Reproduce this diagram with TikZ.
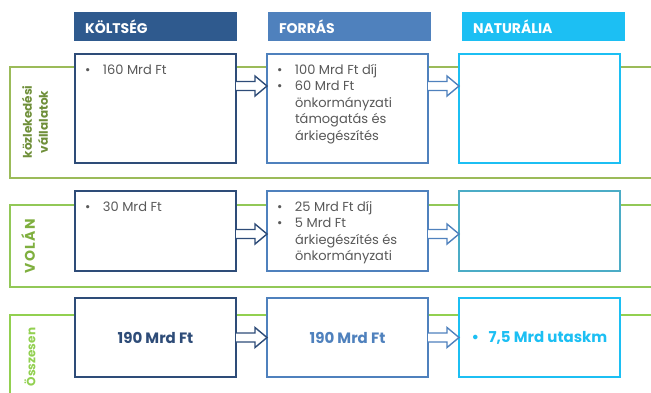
\documentclass[tikz,border=0pt]{standalone}
\usepackage{fontspec}
\setmainfont{Poppins}
\usepackage{tikz}
\usetikzlibrary{arrows}
\usetikzlibrary{positioning,calc}

\definecolor{navy}{HTML}{2E4C78}
\definecolor{navyhead}{HTML}{2F5A8E}
\definecolor{midblue}{HTML}{4F81BD}
\definecolor{cyanblue}{HTML}{1CBFF3}
\definecolor{tealblue}{HTML}{4BACC6}
\definecolor{olive}{HTML}{9BBB59}
\definecolor{olivetext}{HTML}{6F8F3A}
\definecolor{lightgreen}{HTML}{92C857}
\definecolor{lightgreentext}{HTML}{7FAF3F}
\definecolor{limegreen}{HTML}{92D050}
\definecolor{textgray}{HTML}{595959}

\newcommand{\bul}{\makebox[18pt][l]{\textbullet}}
\newcommand{\ind}{\hspace*{18pt}}

\begin{document}
\begin{tikzpicture}[%
      x=1pt, y=-1pt,
      every node/.style={inner sep=0pt, outer sep=0pt},
      head/.style={rectangle, minimum height=29pt, text width=141pt, inner xsep=11pt,
        font=\fontsize{14}{16}\selectfont\bfseries, text=white},
      box/.style={rectangle, draw, fill=white, line width=2pt, minimum width=161pt},
      items/.style={anchor=north west, font=\fontsize{13}{16.4}\selectfont, text=textgray},
      total/.style={font=\fontsize{15}{17}\selectfont\bfseries},
      rowlabel/.style={rotate=90, align=center, font=\fontsize{12}{16}\selectfont\bfseries},
      frame/.style={line width=2pt},
      flow/.style={line width=1.4pt, fill=white, line join=miter,
        to path={let \p1=(\tikztostart), \p2=(\tikztotarget) in
          (\x1,\y1+4.5pt) -- (\x2-12pt,\y1+4.5pt) -- (\x2-12pt,\y1+10pt) -- (\x2,\y1)
          -- (\x2-12pt,\y1-10pt) -- (\x2-12pt,\y1-4.5pt) -- (\x1,\y1-4.5pt)}},
      node distance=31pt
    ]
    \useasboundingbox (0,0) rectangle (651,392);
    \clip (0,0) rectangle (651,392);

    % green frames
    \draw [frame, olive] (660,67) -- (10,67) -- (10,178) -- (660,178);
    \draw [frame, lightgreen] (660,205) -- (10,205) -- (10,287) -- (660,287);
    \draw [frame, limegreen] (660,315) -- (10,315) -- (10,400);

    \node [rowlabel, text=olivetext] (l1) at (35,122) {közlekedési\\vállalatok};
    \node [rowlabel, text=lightgreentext,
      font=\fontsize{14}{16}\selectfont\bfseries\addfontfeature{LetterSpace=10}] (l2) at (28,246) {VOLÁN};
    \node [rowlabel, text=limegreen] (l3) at (30,357) {Összesen};

    % headers
    \node [head, fill=navyhead] (h1) at (155.5,26.5) {KÖLTSÉG};
    \node [head, fill=midblue, right=of h1] (h2) {FORRÁS};
    \node [head, fill=cyanblue, right=of h2] (h3) {NATURÁLIA};

    % rows of boxes
    \node [box, draw=navy, minimum height=109pt, below=13pt of h1] (k1) {};
    \node [box, draw=midblue, minimum height=109pt, right=of k1] (f1) {};
    \node [box, draw=cyanblue, minimum height=109pt, right=of f1] (n1) {};

    \node [box, draw=navy, minimum height=80pt, below=28pt of k1] (k2) {};
    \node [box, draw=midblue, minimum height=80pt, right=of k2] (f2) {};
    \node [box, draw=tealblue, minimum height=80pt, right=of f2] (n2) {};

    \node [box, draw=navy, minimum height=79pt, below=27pt of k2, total, text=navy] (k3) {190 Mrd Ft};
    \node [box, draw=midblue, minimum height=79pt, right=of k3, total, text=midblue] (f3) {190 Mrd Ft};
    \node [box, draw=cyanblue, minimum height=79pt, right=of f3, total, text=cyanblue] (n3)
      {\makebox[17pt][l]{\textbullet}7,5 Mrd utaskm};

    % box texts
    \node [items] (t1) at ([shift={(10pt,-9pt)}]k1.north west)
      {\begin{tabular}{@{}l@{}}\bul 160 Mrd Ft\end{tabular}};
    \node [items] (t2) at ([shift={(10pt,-9pt)}]f1.north west)
      {\begin{tabular}{@{}l@{}}
        \bul 100 Mrd Ft díj\\
        \bul 60 Mrd Ft\\
        \ind önkormányzati\\
        \ind támogatás és\\
        \ind árkiegészítés
      \end{tabular}};
    \node [items] (t3) at ([shift={(10pt,-9pt)}]k2.north west)
      {\begin{tabular}{@{}l@{}}\bul 30 Mrd Ft\end{tabular}};
    \node [items] (t4) at ([shift={(10pt,-9pt)}]f2.north west)
      {\begin{tabular}{@{}l@{}}
        \bul 25 Mrd Ft díj\\
        \bul 5 Mrd Ft\\
        \ind árkiegészítés és\\
        \ind önkormányzati
      \end{tabular}};

    % flows
    \path [draw, navy] ([yshift=-32pt]k1.north east) edge[flow] ([yshift=-32pt]f1.north west);
    \path [draw, midblue] ([yshift=-32pt]f1.north east) edge[flow] ([yshift=-32pt]n1.north west);
    \path [draw, navy] ([yshift=-43pt]k2.north east) edge[flow] ([yshift=-43pt]f2.north west);
    \path [draw, midblue] ([yshift=-43pt]f2.north east) edge[flow] ([yshift=-43pt]n2.north west);
    \path [draw, navy] (k3.east) edge[flow] (f3.west);
    \path [draw, midblue] (f3.east) edge[flow] (n3.west);
  \end{tikzpicture}
\end{document}
